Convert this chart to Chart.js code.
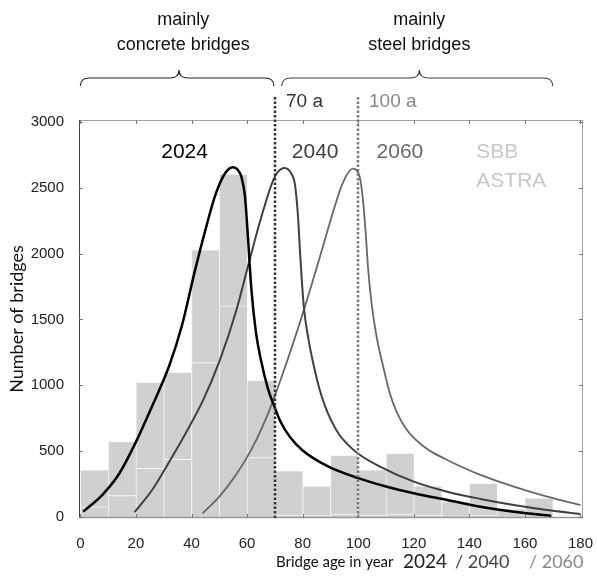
<!DOCTYPE html>
<html>
<head>
<meta charset="utf-8">
<script src="https://cdn.jsdelivr.net/npm/chart.js@4.4.0/dist/chart.umd.min.js"></script>
<style>
  html, body { margin: 0; padding: 0; background: #ffffff; }
  #wrap { width: 597px; height: 578px; }
</style>
</head>
<body>
<div id="wrap"><canvas id="chart" width="597" height="578"></canvas></div>
<script>
// Age classes of the bridge stock (start of each 10-year class)
const ageBins = [0, 10, 20, 30, 40, 50, 60, 70, 80, 90, 100, 110, 120, 130, 140, 150, 160];
const binWidth = 10;
// Number of bridges per class, road (lower part) and railway (upper part)
const astraCount = [76, 162, 370, 438, 1172, 1603, 450, 15, 10, 20, 15, 20, 15, 8, 12, 5, 8];
const sbbCount   = [281, 410, 653, 661, 856, 1002, 588, 335, 225, 448, 342, 463, 220, 108, 244, 57, 135];

// Age distribution curves for the reference years
const age2024   = [1, 8, 14, 20, 26, 32, 36.5, 41, 45, 48.5, 51.5, 53.5, 55, 56.5, 58, 59.2, 60.3, 61.5, 63.2, 65, 67.5, 70, 72, 75.5, 80, 89.5, 100, 111, 120, 132, 144, 156, 169.5];
const count2024 = [40, 170, 330, 570, 850, 1150, 1450, 1850, 2180, 2440, 2590, 2645, 2656, 2640, 2580, 2440, 2130, 1740, 1400, 1190, 975, 830, 725, 605, 505, 380, 295, 225, 180, 129, 78, 40, 8];
const age2040   = [19.5, 26, 32, 38, 44, 50, 56, 61, 65.7, 70, 73.5, 76, 77.2, 78.3, 79.2, 80.4, 82, 84.3, 86, 88, 90, 93, 96, 100, 108, 120, 132, 144, 156, 168, 180];
const count2040 = [36, 210, 420, 640, 880, 1180, 1560, 1960, 2320, 2585, 2650, 2605, 2530, 2290, 1960, 1600, 1360, 1120, 975, 845, 745, 630, 555, 480, 380, 268, 192, 137, 91, 53, 23];
const age2060   = [44, 50, 56, 62, 68, 75, 80.7, 86, 91, 94.5, 98, 100.5, 101.7, 102.7, 103.5, 104.8, 106.6, 109, 111.5, 114, 117, 120, 123, 126, 132, 144, 156, 168, 180];
const count2060 = [28, 154, 320, 530, 810, 1220, 1590, 1960, 2320, 2540, 2645, 2585, 2408, 2155, 1900, 1623, 1369, 1141, 930, 790, 675, 600, 545, 500, 433, 319, 230, 154, 91];

const yearLabels = ['2024', '2040', '2060'];
const yearColors = ['#000000', '#404040', '#686868'];
const yearLabelAge = [37.5, 84.5, 115];
const ownerLabels = ['SBB', 'ASTRA'];

// Service-life limits
const limitAges = [70, 100];
const limitLabels = ['70 a', '100 a'];
const limitColors = ['#333333', '#7a7a7a'];

// Axis ticks
const xTicks = [0, 20, 40, 60, 80, 100, 120, 140, 160, 180];
const yTicks = [0, 500, 1000, 1500, 2000, 2500, 3000];

const toPoints = (xs, ys) => xs.map((x, i) => ({ x: x, y: ys[i] }));
const barPoints = (counts) => ageBins.map((a, i) => ({ x: a + binWidth / 2, y: counts[i] }));

const SANS = '"Liberation Sans", Arial, sans-serif';
const LABEL = 'Lato, "Open Sans", sans-serif';

const barStyle = {
  type: 'bar',
  backgroundColor: '#d0d0d0',
  borderColor: '#f4f4f4',
  borderWidth: { left: 1, top: 1, right: 0, bottom: 0 },
  borderSkipped: false,
  barPercentage: 1,
  categoryPercentage: 1,
  order: 2,
  yAxisID: 'y'
};
const lineStyle = (color, width) => ({
  type: 'line',
  borderColor: color,
  borderWidth: width,
  pointRadius: 0,
  fill: false,
  cubicInterpolationMode: 'monotone',
  order: 1,
  yAxisID: 'yc'
});

// Frame with inward tick marks on all four sides
const framePlugin = {
  id: 'frame',
  afterDatasetsDraw(chart) {
    const { ctx, chartArea: a, scales } = chart;
    ctx.save();
    ctx.lineWidth = 1;
    ctx.strokeStyle = '#a0a0a0';
    ctx.beginPath();
    ctx.moveTo(a.left, a.top + 0.5); ctx.lineTo(a.right, a.top + 0.5);
    ctx.moveTo(a.right - 0.5, a.top); ctx.lineTo(a.right - 0.5, a.bottom);
    ctx.stroke();
    ctx.strokeStyle = '#9a9a9a';
    ctx.lineWidth = 1.5;
    ctx.beginPath();
    ctx.moveTo(a.left, a.bottom - 0.5); ctx.lineTo(a.right, a.bottom - 0.5);
    ctx.stroke();
    ctx.strokeStyle = '#444444';
    ctx.lineWidth = 1;
    ctx.beginPath();
    ctx.moveTo(a.left + 0.5, a.top); ctx.lineTo(a.left + 0.5, a.bottom);
    ctx.stroke();
    ctx.strokeStyle = '#777777';
    ctx.beginPath();
    xTicks.forEach(v => {
      const px = Math.round(scales.x.getPixelForValue(v)) + 0.5;
      ctx.moveTo(px, a.bottom); ctx.lineTo(px, a.bottom - 4);
      ctx.moveTo(px, a.top); ctx.lineTo(px, a.top + 4);
    });
    yTicks.forEach(v => {
      const py = Math.round(scales.y.getPixelForValue(v)) + 0.5;
      ctx.moveTo(a.left, py); ctx.lineTo(a.left + 4, py);
      ctx.moveTo(a.right, py); ctx.lineTo(a.right - 4, py);
    });
    ctx.stroke();
    ctx.restore();
  }
};

function drawBrace(ctx, x1, x2, xm, yBase, yEnd, yTip) {
  const r = 9;
  ctx.beginPath();
  ctx.moveTo(x1, yEnd);
  ctx.quadraticCurveTo(x1, yBase, x1 + r, yBase);
  ctx.lineTo(xm - r, yBase);
  ctx.quadraticCurveTo(xm, yBase, xm, yTip);
  ctx.quadraticCurveTo(xm, yBase, xm + r, yBase);
  ctx.lineTo(x2 - r, yBase);
  ctx.quadraticCurveTo(x2, yBase, x2, yEnd);
  ctx.stroke();
}

// Texts, service-life lines and group braces
const notesPlugin = {
  id: 'notes',
  afterDraw(chart) {
    const { ctx, chartArea: a, scales } = chart;
    const X = v => scales.x.getPixelForValue(v);
    const Y = v => scales.y.getPixelForValue(v);
    ctx.save();

    // service-life limits
    limitAges.forEach((age, i) => {
      const px = Math.round(X(age));
      ctx.strokeStyle = limitColors[i];
      ctx.lineWidth = 2.5;
      ctx.setLineDash([2.5, 2]);
      ctx.beginPath();
      ctx.moveTo(px, 97);
      ctx.lineTo(px, a.bottom);
      ctx.stroke();
      ctx.setLineDash([]);
      ctx.fillStyle = i === 0 ? '#333333' : '#888888';
      ctx.font = '19px ' + SANS;
      ctx.textAlign = 'left';
      ctx.textBaseline = 'middle';
      ctx.fillText(limitLabels[i], px + 11, 102);
    });

    // year labels of the curves
    ctx.font = '21px ' + SANS;
    ctx.textAlign = 'center';
    ctx.textBaseline = 'middle';
    yearLabels.forEach((t, i) => {
      ctx.fillStyle = yearColors[i];
      ctx.fillText(t, X(yearLabelAge[i]), Y(2770));
    });
    ctx.fillStyle = '#c8c8c8';
    ctx.textAlign = 'left';
    ctx.fillText(ownerLabels[0], X(142.5), Y(2770));
    ctx.fillText(ownerLabels[1], X(142.5), Y(2550));

    // group braces
    ctx.lineWidth = 1.2;
    ctx.strokeStyle = '#222222';
    drawBrace(ctx, X(0), X(70) - 1, X(35.5), 78, 86, 70);
    ctx.strokeStyle = '#444444';
    drawBrace(ctx, X(72.5), X(170), X(122), 78, 86, 70);

    ctx.fillStyle = '#111111';
    ctx.font = '18px ' + SANS;
    ctx.textAlign = 'center';
    ctx.fillText('mainly', X(37), 20);
    ctx.fillText('concrete bridges', X(37), 45);
    ctx.fillText('mainly', X(122), 20);
    ctx.fillText('steel bridges', X(122), 45);

    // y axis title
    ctx.save();
    ctx.translate(17, (a.top + a.bottom) / 2);
    ctx.rotate(-Math.PI / 2);
    ctx.font = '18px ' + LABEL;
    ctx.fillStyle = '#111111';
    ctx.textAlign = 'center';
    ctx.textBaseline = 'middle';
    ctx.fillText('Number of bridges', 0, 0);
    ctx.restore();

    // x axis title with the three reference years
    ctx.textAlign = 'left';
    ctx.textBaseline = 'middle';
    const parts = [
      ['Bridge age in year', '15px ' + LABEL, '#111111', 276],
      ['2024', '19px ' + LABEL, '#222222', 403],
      ['/ 2040', '18px ' + LABEL, '#444444', 455],
      ['/ 2060', '18px ' + LABEL, '#888888', 529]
    ];
    parts.forEach(([t, f, c, x]) => {
      ctx.font = f;
      ctx.fillStyle = c;
      ctx.fillText(t, x, 562);
    });
    ctx.restore();
  }
};

new Chart(document.getElementById('chart'), {
  data: {
    datasets: [
      Object.assign({ label: ownerLabels[1], data: barPoints(astraCount) }, barStyle),
      Object.assign({ label: ownerLabels[0], data: barPoints(sbbCount) }, barStyle),
      Object.assign({ label: yearLabels[0], data: toPoints(age2024, count2024) }, lineStyle(yearColors[0], 2.5)),
      Object.assign({ label: yearLabels[1], data: toPoints(age2040, count2040) }, lineStyle(yearColors[1], 2)),
      Object.assign({ label: yearLabels[2], data: toPoints(age2060, count2060) }, lineStyle(yearColors[2], 1.8))
    ]
  },
  options: {
    responsive: false,
    animation: false,
    layout: { padding: { top: 120, right: 14, left: 0, bottom: 0 } },
    plugins: { legend: { display: false }, tooltip: { enabled: false } },
    scales: {
      x: {
        type: 'linear',
        min: -0.5,
        max: 180.9,
        offset: false,
        stacked: true,
        grid: { display: false },
        border: { display: false },
        afterBuildTicks: s => { s.ticks = xTicks.map(v => ({ value: v })); },
        afterFit: s => { s.height = 60; s.paddingLeft = 0; s.paddingRight = 0; },
        ticks: { font: { family: SANS, size: 15 }, color: '#222222', padding: 9, maxRotation: 0, callback: v => String(v) }
      },
      y: {
        type: 'linear',
        min: -8,
        max: 3015,
        stacked: true,
        grid: { display: false },
        border: { display: false },
        afterBuildTicks: s => { s.ticks = yTicks.map(v => ({ value: v })); },
        afterFit: s => { s.width = 79; s.paddingTop = 0; s.paddingBottom = 0; },
        ticks: { font: { family: SANS, size: 15 }, color: '#222222', padding: 7, callback: v => String(v) }
      },
      yc: {
        type: 'linear',
        min: -8,
        max: 3015,
        display: false
      }
    }
  },
  plugins: [framePlugin, notesPlugin]
});
</script>
</body>
</html>
